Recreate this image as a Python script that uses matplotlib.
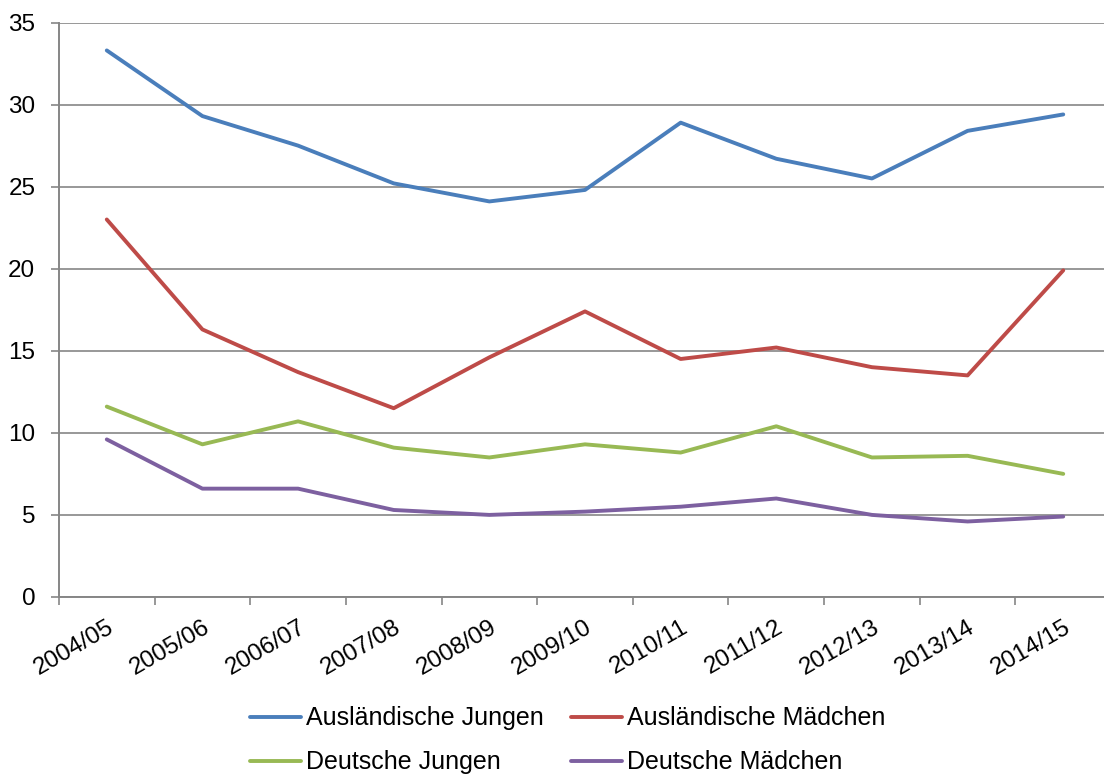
import matplotlib
matplotlib.use("Agg")
import matplotlib.pyplot as plt
import matplotlib.transforms as mtransforms

plt.rcParams['font.family'] = ['Liberation Sans', 'DejaVu Sans']

# Schuljahre
years = ['2004/05', '2005/06', '2006/07', '2007/08', '2008/09', '2009/10',
         '2010/11', '2011/12', '2012/13', '2013/14', '2014/15']

# Werte je Gruppe
auslaendische_jungen = [33.3, 29.3, 27.5, 25.2, 24.1, 24.8, 28.9, 26.7, 25.5, 28.4, 29.4]
auslaendische_maedchen = [23.0, 16.3, 13.7, 11.5, 14.6, 17.4, 14.5, 15.2, 14.0, 13.5, 19.9]
deutsche_jungen = [11.6, 9.3, 10.7, 9.1, 8.5, 9.3, 8.8, 10.4, 8.5, 8.6, 7.5]
deutsche_maedchen = [9.6, 6.6, 6.6, 5.3, 5.0, 5.2, 5.5, 6.0, 5.0, 4.6, 4.9]

series = [
    ('Ausländische Jungen', auslaendische_jungen, '#4A7EBB'),
    ('Ausländische Mädchen', auslaendische_maedchen, '#BE4B48'),
    ('Deutsche Jungen', deutsche_jungen, '#98B954'),
    ('Deutsche Mädchen', deutsche_maedchen, '#7D60A0'),
]

fig = plt.figure(figsize=(11.04, 7.77), dpi=100)
ax = fig.add_axes([0.0534, 0.2317, 0.953, 0.7393])

grid_color = '#868686'
x = list(range(len(years)))
lines = {}
for name, vals, color in series:
    lines[name], = ax.plot(x, vals, color=color, linewidth=2.8, label=name,
                           solid_joinstyle='round', solid_capstyle='round',
                           zorder=3)

ax.set_ylim(0, 35)
ax.set_yticks(range(0, 36, 5))
ax.set_xlim(-0.5, len(years) - 0.5)
ax.yaxis.grid(True, color=grid_color, linewidth=1.2)
ax.set_axisbelow(True)

# category ticks sit between the categories, labels at the centers
ax.set_xticks([i - 0.5 for i in range(len(years) + 1)])
ax.set_xticklabels([])
ax.set_xticks(x, minor=True)
ax.set_xticklabels(years, minor=True, rotation=30, ha='right', va='top',
                   rotation_mode='anchor', fontsize=17.5)
shift = mtransforms.ScaledTranslation(-6 / 100, 0, fig.dpi_scale_trans)
for lab in ax.get_xticklabels(minor=True):
    lab.set_transform(lab.get_transform() + shift)
ax.tick_params(axis='x', which='minor', length=0, pad=14)
ax.tick_params(axis='x', which='major', length=6, width=1.2, color=grid_color)
ax.tick_params(axis='y', length=6, width=1.2, color=grid_color,
               labelsize=17.5, pad=11)

for side in ['top', 'right']:
    ax.spines[side].set_visible(False)
for side in ['left', 'bottom']:
    ax.spines[side].set_color(grid_color)
    ax.spines[side].set_linewidth(1.4)

# legend filled row by row like in the original
order = ['Ausländische Jungen', 'Deutsche Jungen',
         'Ausländische Mädchen', 'Deutsche Mädchen']
fig.legend([lines[n] for n in order], order, ncol=2, loc='center',
           bbox_to_anchor=(0.514, 0.047), frameon=False, fontsize=18,
           handlelength=2.05, handletextpad=0.2, columnspacing=1.08,
           labelspacing=0.8)

fig.savefig('out.png', dpi=100)
